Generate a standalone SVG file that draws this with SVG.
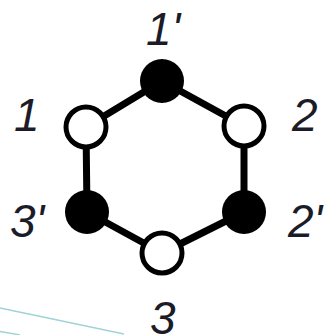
<svg xmlns="http://www.w3.org/2000/svg" width="331" height="335" viewBox="0 0 331 335">
<style>
.edge{stroke:#000;stroke-width:7;stroke-linecap:round}
.open{fill:#fff;stroke:#000;stroke-width:5}
.full{fill:#000}
.lbl{font-family:"Liberation Sans",Arial,sans-serif;font-style:italic;font-size:46px;fill:#1c1c28}
.deco{stroke:#9fd3d6;stroke-width:1.3;fill:none}
</style>
<rect width="331" height="335" fill="#fff"/>
<g id="deco">
<line class="deco" x1="0" y1="308" x2="124" y2="334"/>
<line class="deco" x1="0" y1="331.5" x2="20" y2="335"/>
</g>
<g id="connectors">
<line class="edge" x1="86" y1="127" x2="162" y2="81"/>
<line class="edge" x1="162" y1="81" x2="244" y2="126"/>
<line class="edge" x1="86" y1="127" x2="87" y2="212"/>
<line class="edge" x1="244" y1="126" x2="244" y2="212"/>
<line class="edge" x1="87" y1="212" x2="162" y2="253"/>
<line class="edge" x1="162" y1="253" x2="244" y2="212"/>
</g>
<g id="n1p"><circle class="full" cx="162" cy="81" r="22"/><text class="lbl" x="146" y="45">1'</text></g>
<g id="n1"><circle class="open" cx="86" cy="127" r="20"/><text class="lbl" x="14" y="131">1</text></g>
<g id="n2"><circle class="open" cx="244" cy="126" r="20"/><text class="lbl" x="292" y="131">2</text></g>
<g id="n3p"><circle class="full" cx="87" cy="212" r="22"/><text class="lbl" x="10" y="237">3'</text></g>
<g id="n2p"><circle class="full" cx="244" cy="212" r="22"/><text class="lbl" x="288" y="237">2'</text></g>
<g id="n3"><circle class="open" cx="162" cy="253" r="20"/><text class="lbl" x="150" y="334">3</text></g>
</svg>
